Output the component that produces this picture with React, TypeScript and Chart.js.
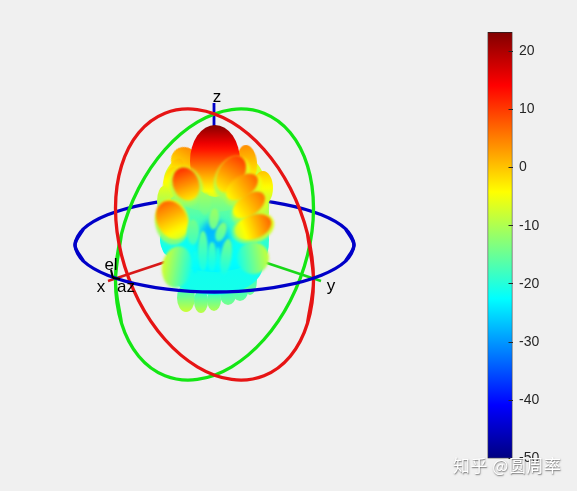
import React, { useEffect, useRef } from "react";
import { Chart, registerables } from "chart.js";

Chart.register(...registerables);

// ---- Rings (projected x / y) ----
const redRingX = [307.5, 313.5, 307.5, 290.3, 264, 231.7, 197.3, 165, 138.7, 121.5, 115.5, 121.5, 138.7, 165, 197.3, 231.7, 264, 290.3, 307.5, 313.5, 307.5];
const redRingY = [233.9, 280.7, 323.2, 356.2, 375.7, 379.4, 366.8, 339.5, 300.7, 255.1, 208.3, 165.8, 132.8, 113.3, 109.6, 122.2, 149.5, 188.3, 233.9, 280.7, 323.2];
const greenRingX = [121.5, 115.5, 121.5, 138.7, 165, 197.3, 231.7, 264, 290.3, 307.5, 313.5, 307.5, 290.3, 264, 231.7, 197.3, 165, 138.7, 121.5, 115.5, 121.5];
const greenRingY = [233.9, 280.7, 323.2, 356.2, 375.7, 379.4, 366.8, 339.5, 300.7, 255.1, 208.3, 165.8, 132.8, 113.3, 109.6, 122.2, 149.5, 188.3, 233.9, 280.7, 323.2];
const blueBackX = [83.4, 75, 83.4, 107.6, 144.8, 190.3, 238.7, 284.3, 321.4, 345.6, 354, 345.6];
const blueBackY = [261.1, 245, 228.9, 214.8, 204.3, 198.7, 198.7, 204.3, 214.8, 228.9, 245, 261.1];
const blueFrontX = [345.6, 354, 345.6, 321.4, 284.3, 238.7, 190.3, 144.8, 107.6, 83.4, 75, 83.4];
const blueFrontY = [228.9, 245, 261.1, 275.2, 285.7, 291.3, 291.3, 285.7, 275.2, 261.1, 245, 228.9];

// ---- Axes of the 3D box ----
const xAxisX = [108, 165];
const xAxisY = [281, 262];
const yAxisX = [264, 321];
const yAxisY = [262, 281];
const zAxisX = [214, 214];
const zAxisY = [103, 127];
const elArrowX = [111, 113];
const elArrowY = [270, 278];
const azArrowX = [113, 120];
const azArrowY = [278, 279];

// ---- Pattern lobes, back to front ----
const lobeX = [186, 201, 214, 228, 240, 250, 214, 214, 214, 214, 247, 263, 184, 176, 171, 164, 262, 264, 167, 215, 186, 232, 243, 250, 253, 172, 186, 231, 242, 249, 253, 172, 214, 205, 214, 193, 221, 195, 218, 203, 212, 226, 177, 253];
const lobeY = [298, 301, 300, 295, 291, 280, 265, 240, 205, 180, 163, 188, 160, 170, 183, 201, 212, 240, 240, 161, 186, 178, 190, 208, 228, 222, 184, 174, 187, 205, 227, 220, 240, 204, 219, 232, 232, 262, 260, 251, 257, 257, 267, 258];
const lobeW = [18, 14, 14, 16, 16, 14, 98, 108, 110, 100, 20, 20, 26, 14, 16, 14, 14, 10, 12, 50, 32, 32, 26, 26, 30, 34, 26, 26, 21, 21, 24, 30, 30, 12, 10, 12, 10, 7, 5, 10, 9, 11, 42, 32];
const lobeH = [28, 24, 22, 20, 20, 30, 60, 64, 74, 64, 36, 34, 26, 24, 32, 30, 30, 36, 30, 72, 40, 46, 42, 42, 44, 46, 34, 40, 36, 36, 38, 40, 40, 22, 21, 25, 20, 22, 26, 40, 30, 36, 30, 32];
const lobeTilt = [0, 0, 0, 0, 0, 0, 0, 0, 0, 0, -5, 0, 30, 20, 10, 0, 0, 0, 0, 0, -20, 30, 55, 55, 70, -10, -20, 30, 55, 55, 70, -25, 0, 0, 5, 0, 20, 0, 0, 0, 0, 8, -80, 80];
const lobeDbTop = [-20, -20, -20, -20, -20, -20, -22, -20, -9, -3, 4, 0, 4, 1, -1, -6, -6, -17, -18, 23, -6, -5, -5, -6, -6, -5, 11, 10, 7, 6, 7, 7, -28, -11, -11, -14, -13, -21, -20, -15, -17, -14, -7, -8];
const lobeDbBottom = [-8, -9, -10, -14, -15, -15, -21, -23, -21, -15, -4, -9, -3, -6, -8, -13, -14, -21, -22, -7, -12, -11, -11, -12, -15, -14, -3, -3, -4, -5, -8, -7, -26, -15, -15, -18, -17, -23, -23, -21, -22, -21, -21, -21];
const lobeSoft = [0.7, 0.7, 0.7, 0.7, 0.7, 0.7, 0.7, 0.7, 0.7, 0.7, 0.7, 0.7, 0.7, 0.7, 0.7, 0.7, 0.7, 0.7, 0.7, 0.7, 1.5, 1.5, 1.5, 1.5, 1, 1, 1.2, 1.2, 1.2, 1.2, 1, 1, 3, 0.8, 0.8, 0.8, 0.8, 0.8, 0.8, 0.8, 0.8, 0.8, 1, 1];

// ---- Text in the 3D view ----
const viewLabels = ["z", "x", "y", "el", "az"];
const viewLabelX = [217, 101, 331, 111, 126];
const viewLabelY = [97, 287, 286, 265, 287];

// ---- Colour bar ----
const colorMin = -50;
const colorMax = 23.3;
const colorTicks = [-50, -40, -30, -20, -10, 0, 10, 20];
const watermark = "知乎 @圆周率";

const jetStops: [number, number[]][] = [
  [0, [0, 0, 128]],
  [0.125, [0, 0, 255]],
  [0.375, [0, 255, 255]],
  [0.625, [255, 255, 0]],
  [0.875, [255, 0, 0]],
  [1, [128, 0, 0]],
];

function jet(t: number): string {
  const v = Math.max(0, Math.min(1, t));
  for (let i = 1; i < jetStops.length; i++) {
    if (v <= jetStops[i][0]) {
      const [a, ca] = jetStops[i - 1];
      const [b, cb] = jetStops[i];
      const f = (v - a) / (b - a);
      const c = ca.map((q, k) => Math.round(q + (cb[k] - q) * f));
      return `rgb(${c[0]},${c[1]},${c[2]})`;
    }
  }
  return "rgb(128,0,0)";
}

const dbColor = (db: number) => jet((db - colorMin) / (colorMax - colorMin));

function lobeSprite(w: number, h: number, top: number, bottom: number, soft: number): HTMLCanvasElement {
  const m = 8;
  const c = document.createElement("canvas");
  c.width = w + 2 * m;
  c.height = h + 2 * m;
  const g = c.getContext("2d")!;
  const grad = g.createLinearGradient(0, m, 0, h + m);
  const steps = 12;
  for (let i = 0; i <= steps; i++) {
    grad.addColorStop(i / steps, dbColor(top + ((bottom - top) * i) / steps));
  }
  g.filter = `blur(${soft}px)`;
  g.fillStyle = grad;
  g.beginPath();
  g.ellipse(c.width / 2, c.height / 2, w / 2, h / 2, 0, 0, Math.PI * 2);
  g.fill();
  return c;
}

const pts = (xs: number[], ys: number[]) => xs.map((x, i) => ({ x, y: ys[i] }));

function ring(label: string, xs: number[], ys: number[], color: string, order: number, width = 3.3, tension = 0.33) {
  return {
    type: "line" as const,
    label,
    data: pts(xs, ys),
    borderColor: color,
    borderWidth: width,
    pointRadius: 0,
    tension,
    order,
    fill: false,
  };
}

const viewTextPlugin = {
  id: "viewText",
  afterDatasetsDraw(chart: any) {
    const { ctx, scales } = chart;
    ctx.save();
    ctx.font = '17px "Liberation Sans", Arial, sans-serif';
    ctx.fillStyle = "#000";
    ctx.textAlign = "center";
    ctx.textBaseline = "middle";
    viewLabels.forEach((t, i) => {
      ctx.fillText(t, scales.x.getPixelForValue(viewLabelX[i]), scales.y.getPixelForValue(viewLabelY[i]));
    });
    ctx.restore();
  },
};

const watermarkPlugin = {
  id: "watermark",
  afterDraw(chart: any) {
    const { ctx } = chart;
    ctx.save();
    ctx.font = '17px "Noto Sans CJK SC", sans-serif';
    (ctx as any).letterSpacing = "0.5px";
    ctx.textBaseline = "middle";
    ctx.fillStyle = "#ffffff";
    ctx.shadowColor = "rgba(90,90,90,0.9)";
    ctx.shadowBlur = 1.5;
    ctx.shadowOffsetX = 0.5;
    ctx.shadowOffsetY = 0.5;
    ctx.fillText(watermark, 453, 466);
    ctx.restore();
  },
};

export default function App() {
  const viewRef = useRef<HTMLCanvasElement>(null);
  const barRef = useRef<HTMLCanvasElement>(null);

  useEffect(() => {
    document.body.style.margin = "0";
    document.body.style.background = "#f0f0f0";

    const sprites = lobeX.map((_, i) => lobeSprite(lobeW[i], lobeH[i], lobeDbTop[i], lobeDbBottom[i], lobeSoft[i]));

    const view = new Chart(viewRef.current!, {
      type: "scatter",
      data: {
        datasets: [
          ring("Blue ring back", blueBackX, blueBackY, "#0000c8", 8),
          ring("x axis", xAxisX, xAxisY, "#d81818", 7, 2.5, 0),
          ring("y axis", yAxisX, yAxisY, "#18d818", 7, 2.5, 0),
          ring("z axis", zAxisX, zAxisY, "#0000c8", 7, 2.8, 0),
          {
            type: "scatter" as const,
            label: "Pattern",
            data: pts(lobeX, lobeY),
            pointStyle: sprites as any,
            pointRotation: lobeTilt as any,
            pointRadius: 10,
            order: 6,
          },
          ring("Green ring", greenRingX, greenRingY, "#14e614", 5),
          ring("Red ring", redRingX, redRingY, "#e61414", 4),
          ring("Blue ring front", blueFrontX, blueFrontY, "#0000c8", 3),
          ring("el arrow", elArrowX, elArrowY, "#000", 2, 2, 0),
          ring("az arrow", azArrowX, azArrowY, "#000", 2, 2, 0),
        ] as any,
      },
      options: {
        responsive: false,
        animation: false,
        events: [],
        layout: { padding: 0, autoPadding: false },
        plugins: { legend: { display: false }, tooltip: { enabled: false } },
        scales: {
          x: { type: "linear", display: false, min: 0, max: 577 },
          y: { type: "linear", display: false, min: 0, max: 491, reverse: true },
        },
      },
      plugins: [viewTextPlugin],
    });

    const bar = new Chart(barRef.current!, {
      type: "bar",
      data: {
        labels: ["dB"],
        datasets: [
          {
            data: [[colorMin, colorMax]] as any,
            barPercentage: 1,
            categoryPercentage: 1,
            borderWidth: 1,
            borderColor: "#222",
            borderSkipped: false,
            backgroundColor: (c: any) => {
              const area = c.chart.chartArea;
              if (!area) return "#000";
              const g = c.chart.ctx.createLinearGradient(0, area.bottom, 0, area.top);
              for (let i = 0; i <= 64; i++) g.addColorStop(i / 64, jet(i / 64));
              return g;
            },
          },
        ],
      },
      options: {
        responsive: false,
        animation: false,
        events: [],
        layout: { padding: { left: 487.5, top: 32, bottom: 32.5, right: 0 } },
        plugins: { legend: { display: false }, tooltip: { enabled: false } },
        scales: {
          x: { display: false },
          y: {
            position: "right",
            min: colorMin,
            max: colorMax,
            afterFit: (s: any) => {
              s.width = 64.5;
            },
            afterBuildTicks: (s: any) => {
              s.ticks = colorTicks.map((value) => ({ value }));
            },
            grid: { drawOnChartArea: false, tickLength: -4, color: "#262626", z: 1 },
            border: { display: false },
            ticks: {
              color: "#262626",
              padding: 10.5,
              font: { family: '"Liberation Sans", Arial, sans-serif', size: 14 },
              maxRotation: 0,
              autoSkip: false,
            },
          },
        },
      },
      plugins: [watermarkPlugin],
    });

    return () => {
      view.destroy();
      bar.destroy();
    };
  }, []);

  const abs: React.CSSProperties = { position: "absolute", left: 0, top: 0, display: "block" };
  return (
    <div style={{ position: "relative", width: 577, height: 491, background: "#f0f0f0", overflow: "hidden" }}>
      <canvas ref={viewRef} width={577} height={491} style={abs} />
      <canvas ref={barRef} width={577} height={491} style={abs} />
    </div>
  );
}
